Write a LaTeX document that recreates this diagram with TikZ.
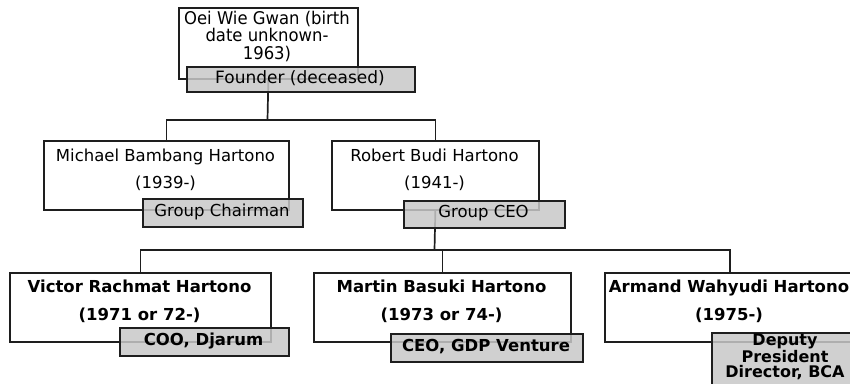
\documentclass[tikz,border=0pt]{standalone}
\usepackage{fontspec}
\setmainfont{DejaVu Sans}
\newfontfamily\condfont[FakeStretch=0.94]{DejaVu Sans}
\definecolor{lblgray}{RGB}{200,200,200}
\definecolor{edge}{RGB}{30,30,30}
\tikzset{
  wbox/.style={draw=edge, line width=1.7pt, fill=white, inner sep=0pt, anchor=north west},
  lbl/.style={draw=edge, line width=1.7pt, fill=lblgray, fill opacity=0.85, text opacity=1, inner sep=0pt, anchor=north west},
  txt/.style={align=center, inner sep=0pt, font=\fontsize{16.5}{27}\selectfont},
  btxt/.style={align=center, inner sep=0pt, font=\fontsize{16.5}{28}\selectfont\bfseries},
  conn/.style={draw=edge, line width=1.7pt}
}
\begin{document}
\begin{tikzpicture}[x=1pt,y=-1pt]
\useasboundingbox (0,0) rectangle (850,383);
\clip (0,0) rectangle (850,383);
% white boxes
\node[wbox, minimum width=179pt, minimum height=71pt] (top) at (178,7) {};
\node[wbox, minimum width=245pt, minimum height=69pt] (mich) at (43,140) {};
\node[wbox, minimum width=207pt, minimum height=69pt] (rob) at (331,140) {};
\node[wbox, minimum width=261pt, minimum height=69pt] (vic) at (9,272) {};
\node[wbox, minimum width=257pt, minimum height=69pt] (mar) at (313,272) {};
\node[wbox, minimum width=250pt, minimum height=69pt] (arm) at (604,272) {};
% texts
\node[align=center, inner sep=0pt, font=\condfont\fontsize{17.5}{17.5}\selectfont] (topT) at (267,36.5) {Oei Wie Gwan (birth\\date unknown-\\1963)};
\node[txt] (michT) at (165.5,169.5) {Michael Bambang Hartono\\(1939-)};
\node[txt] (robT) at (434.5,169.5) {Robert Budi Hartono\\(1941-)};
\node[btxt] (vicT) at (139.5,301) {Victor Rachmat Hartono\\(1971 or 72-)};
\node[btxt] (marT) at (441.5,301) {Martin Basuki Hartono\\(1973 or 74-)};
\node[btxt] (armT) at (729,301) {Armand Wahyudi Hartono\\(1975-)};
% connectors
\coordinate (j1) at (267.5,120);
\coordinate (j2) at (434.5,250);
\draw[conn] (top.south) -- (j1);
\draw[conn] (mich.north) |- (j1) -| (rob.north);
\draw[conn] (rob.south) -- (j2);
\draw[conn] (vic.north) |- (j2) -| (arm.north);
\draw[conn] (j2) -| (mar.north);
% labels
\node[lbl, minimum width=228pt, minimum height=25pt] (fnd) at (186,66) {};
\node[inner sep=0pt, font=\fontsize{17}{20}\selectfont] (fndT) at (300,78.5) {Founder (deceased)};
\node[lbl, minimum width=160pt, minimum height=28pt] (gch) at (142,198) {};
\node[inner sep=0pt, font=\fontsize{16.5}{20}\selectfont] (gchT) at (222,212) {Group Chairman};
\node[lbl, minimum width=161pt, minimum height=27pt] (gceo) at (403,200) {};
\node[inner sep=0pt, font=\fontsize{16.5}{20}\selectfont] (gceoT) at (483.5,213.5) {Group CEO};
\node[lbl, minimum width=169pt, minimum height=28pt] (coo) at (119,327) {};
\node[inner sep=0pt, font=\fontsize{16.5}{20}\selectfont\bfseries] (cooT) at (203.5,341) {COO, Djarum};
\node[lbl, minimum width=192pt, minimum height=28pt] (gdp) at (390,333) {};
\node[inner sep=0pt, font=\fontsize{16.5}{20}\selectfont\bfseries] (gdpT) at (486,347) {CEO, GDP Venture};
\node[lbl, minimum width=150pt, minimum height=60pt] (bca) at (711,332) {};
\node[align=center, inner sep=0pt, font=\fontsize{16}{15}\selectfont\bfseries] (bcaT) at (785,357) {Deputy\\President\\Director, BCA};
\end{tikzpicture}
\end{document}
